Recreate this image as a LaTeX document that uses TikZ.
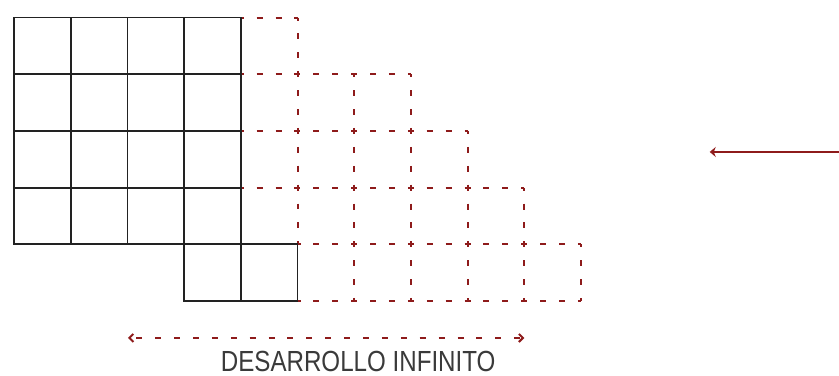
\documentclass[tikz,border=0pt]{standalone}
\usepackage{fontspec}
\usepackage{tikz}
\usetikzlibrary{
  arrows.meta,
  positioning,
  calc
}
\newfontfamily\labelfont[FakeStretch=0.83]{Liberation Sans}
\definecolor{gdRed}{HTML}{8E1B1B}
\definecolor{gdInk}{HTML}{222222}
\definecolor{gdText}{HTML}{3A3A3A}
\tikzset{
  solidcell/.style={draw=gdInk, line width=0.9pt},
  openedge/.style={draw=gdRed, line width=1pt, dash pattern=on 3pt off 6.48pt, dash phase=1.5pt},
  growth/.style={-{Stealth[length=3pt, width=5pt]}, line width=1pt, gdRed},
  span/.style={{Straight Barb[length=2pt, width=4pt]}-{Straight Barb[length=2pt, width=4pt]},
    line width=1pt, gdRed, dash pattern=on 3pt off 6.48pt, dash phase=-3pt},
  caption/.style={font=\labelfont\fontsize{14.6}{16}\selectfont, text=gdText, inner sep=0pt}
}

\begin{document}
\begin{tikzpicture}
  \useasboundingbox (-0.247,0.31) rectangle (14.55,-6.32);
  % open cells (dashed edges)
  \foreach \y/\a/\b in {0/4/5, -1/4/7, -2/4/8, -3/4/9, -4/5/10, -5/5/10}
    \draw[openedge] (\a,\y) -- (\b,\y);
  \foreach \x/\a/\b in {5/0/-4, 6/-1/-5, 7/-1/-5, 8/-2/-5, 9/-3/-5, 10/-4/-5}
    \draw[openedge] (\x,\a) -- (\x,\b);
  % solid cells
  \foreach \i in {0,...,3}
    \foreach \j in {0,...,3}
      \draw[solidcell] (\i,-\j) rectangle ++(1,-1);
  \draw[solidcell] (3,-4) rectangle ++(1,-1);
  \draw[solidcell] (4,-4) rectangle ++(1,-1);
  % arrows
  \coordinate (inS) at (14.55,-2.37);
  \coordinate (inE) at (12.27,-2.37);
  \draw[growth] (inS) -- (inE);
  \coordinate (spL) at (2.01,-5.65);
  \coordinate (spR) at (9.0,-5.65);
  \draw[span] (spL) -- (spR);
  \node[caption] (lbl) at (6.07,-6.07) {DESARROLLO INFINITO};
\end{tikzpicture}
\end{document}
